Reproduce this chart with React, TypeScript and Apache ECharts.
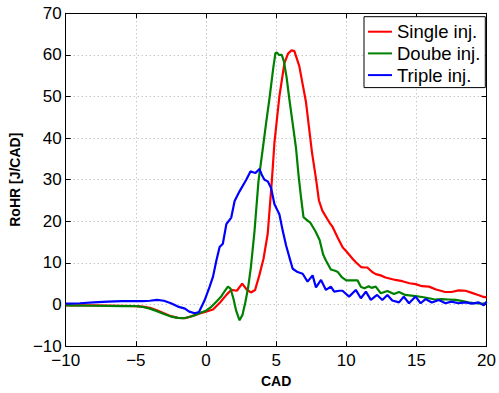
import React, { useEffect, useRef } from "react";
import * as echarts from "echarts";

// CAD positions and RoHR values
const singleX = [-10, -8, -6, -5, -4.5, -4, -3.5, -3, -2.5, -2, -1.5, -1, -0.5, 0, 0.5, 1, 1.5, 1.8, 2.2, 2.58, 2.9, 3.2, 3.5, 3.8, 4.1, 4.4, 4.7, 4.88, 5.23, 5.59, 5.85, 6.1, 6.3, 6.65, 7.13, 7.55, 7.85, 8.05, 8.3, 8.8, 9.0, 9.4, 9.75, 10.0, 10.45, 10.7, 11.05, 11.3, 11.5, 11.85, 12.1, 12.45, 12.8, 13.5, 14.0, 14.5, 14.95, 15.4, 15.9, 16.4, 17.05, 17.5, 18.0, 18.5, 18.96, 19.4, 19.7, 20];
const singleY = [-0.2, -0.2, -0.3, -0.4, -0.5, -0.8, -1.4, -2.1, -2.8, -3.2, -3.3, -2.8, -2.2, -1.7, -1.2, 0.5, 2.5, 3.5, 3.3, 5.0, 3.6, 2.9, 3.5, 7.0, 11, 17, 30, 39, 50, 58, 60.3, 61.1, 60.9, 57.3, 48.6, 36.7, 30, 25, 22.5, 19.7, 18.8, 16, 13.7, 12.8, 11, 10.1, 9, 8.9, 8.9, 7.8, 7.3, 7.0, 6.5, 5.9, 5.6, 5.1, 4.9, 4.4, 4.3, 3.6, 3.0, 3.0, 3.4, 3.3, 2.8, 2.3, 1.9, 1.7];

const doubleX = [-10, -8, -6, -5, -4.5, -4, -3.5, -3, -2.5, -2, -1.6, -1.2, -0.8, -0.4, 0, 0.4, 0.8, 1.1, 1.35, 1.56, 1.75, 1.95, 2.15, 2.39, 2.6, 2.8, 3.0, 3.2, 3.46, 3.74, 4.05, 4.3, 4.52, 4.8, 4.95, 5.05, 5.2, 5.4, 5.55, 5.75, 5.94, 6.2, 6.42, 6.6, 6.78, 6.95, 7.2, 7.45, 7.8, 8.1, 8.35, 8.55, 8.9, 9.2, 9.4, 9.7, 10.0, 10.4, 10.8, 11.05, 11.3, 11.6, 11.8, 12.1, 12.46, 12.93, 13.4, 13.76, 14.2, 14.94, 15.4, 15.9, 16.3, 16.8, 17.3, 17.8, 18.3, 18.7, 19.2, 19.7, 20];
const doubleY = [-0.2, -0.3, -0.4, -0.4, -0.6, -1.0, -1.6, -2.3, -2.9, -3.2, -3.3, -3.0, -2.6, -2.0, -1.5, -0.5, 0.9, 2.0, 3.3, 4.3, 3.8, 1.5, -1.5, -3.8, -2.5, 0.5, 4, 9, 17.7, 29.6, 37.5, 44, 49.4, 57, 60.4, 60.6, 60.0, 60.0, 58.5, 54.5, 49.4, 43, 37.5, 31, 25.6, 21, 20.3, 19.6, 17.6, 15.5, 12, 10.6, 8.4, 8.1, 7.8, 6.5, 5.8, 5.8, 5.8, 4.2, 3.9, 4.4, 4.0, 4.3, 2.7, 3.25, 2.5, 3.0, 2.3, 2.0, 1.8, 1.5, 1.2, 1.3, 1.2, 1.1, 0.8, 0.5, 0.3, 0.2, 0.3];

const tripleX = [-10, -9, -8, -7, -6, -5, -4.5, -4, -3.5, -3, -2.5, -2, -1.5, -1.2, -0.8, -0.5, -0.1, 0.26, 0.5, 0.74, 0.97, 1.2, 1.45, 1.8, 2.04, 2.39, 2.87, 3.17, 3.35, 3.53, 3.81, 4.0, 4.17, 4.4, 4.64, 4.88, 5.23, 5.47, 5.71, 5.94, 6.18, 6.53, 6.89, 7.24, 7.6, 7.84, 8.2, 8.55, 8.9, 9.14, 9.5, 9.73, 10.2, 10.68, 11.04, 11.4, 11.75, 12.2, 12.57, 12.93, 13.28, 13.76, 14.1, 14.47, 14.94, 15.3, 15.65, 16.1, 16.6, 17.07, 17.5, 18.0, 18.5, 18.96, 19.44, 19.8, 20];
const tripleY = [0.2, 0.3, 0.5, 0.7, 0.8, 0.8, 0.8, 0.9, 1.1, 0.9, 0.3, -0.5, -1.0, -1.7, -2.1, -1.8, 1.0, 4.3, 6.7, 10.6, 13.8, 14.6, 19.3, 20.9, 24.9, 27.2, 30, 32, 31.8, 31.6, 32.6, 31, 30, 29.6, 28, 24.1, 21.7, 17.7, 14.2, 11.4, 8.6, 7.8, 7.4, 5.5, 7.0, 4.1, 5.9, 3.5, 4.3, 3.1, 3.3, 3.3, 1.9, 3.5, 1.5, 3.1, 1.1, 2.3, 1.1, 2.3, 0.95, 0.5, 1.9, 0.3, 1.9, 0.3, 1.3, 0.5, 1.1, 0.3, 0.7, 0.3, 0.5, 0.2, 0.5, -0.2, 0.7];

const seriesNames = ["Single inj.", "Doube inj.", "Triple inj."];
const seriesColors = ["#ff0000", "#008000", "#0000ff"];

const xMin = -10, xMax = 20, xStep = 5;
const yMin = -10, yMax = 70, yStep = 10;

const FONT = "'Liberation Sans', Arial, Helvetica, sans-serif";
const LEGEND_ICON = "path://M0,0 L24,0 L24,2 L0,2 Z";

const fmt = (v: number) => (v < 0 ? "\u2212" + Math.abs(v) : String(v));

export default function App() {
  const ref = useRef<HTMLDivElement>(null);
  useEffect(() => {
    if (!ref.current) return;
    const chart = echarts.init(ref.current, undefined, { renderer: "svg" });
    const zip = (xs: number[], ys: number[]) => xs.map((x, i) => [x, ys[i]]);
    const datasets = [zip(singleX, singleY), zip(doubleX, doubleY), zip(tripleX, tripleY)];
    const grid = { left: 65.5, right: 10.7, top: 13.3, bottom: 43 };
    const frameLine = { show: true, onZero: false, lineStyle: { color: "#000", width: 1 } };
    const inTick = { show: true, inside: true, length: 5, lineStyle: { color: "#000", width: 1 } };
    chart.setOption({
      animation: false,
      backgroundColor: "#fff",
      grid,
      legend: {
        orient: "vertical",
        left: 364,
        top: 16.7,
        itemWidth: 24,
        itemHeight: 14,
        itemGap: 2.7,
        padding: [5.5, 5, 3, 4],
        borderColor: "#000",
        borderWidth: 1,
        borderRadius: 0,
        backgroundColor: "#fff",
        symbolKeepAspect: true,
        data: seriesNames.map((n) => ({ name: n, icon: LEGEND_ICON })),
        textStyle: { fontFamily: FONT, fontSize: 18.5, lineHeight: 19, color: "#000" },
      },
      xAxis: [
        {
          type: "value",
          min: xMin,
          max: xMax,
          interval: xStep,
          name: "CAD",
          nameLocation: "middle",
          nameGap: 24,
          nameTextStyle: { fontFamily: FONT, fontSize: 14, fontWeight: "bold", color: "#000" },
          axisLine: frameLine,
          axisTick: inTick,
          axisLabel: { fontFamily: FONT, fontSize: 17, color: "#000", margin: 6, formatter: fmt },
          splitLine: { show: true, lineStyle: { color: "#b0b0b0", type: [1, 3], width: 1 } },
        },
        {
          type: "value",
          position: "top",
          min: xMin,
          max: xMax,
          interval: xStep,
          axisLine: frameLine,
          axisTick: inTick,
          axisLabel: { show: false },
          splitLine: { show: false },
        },
      ],
      yAxis: [
        {
          type: "value",
          min: yMin,
          max: yMax,
          interval: yStep,
          name: "RoHR [J/CAD]",
          nameLocation: "middle",
          nameGap: 40,
          nameRotate: 90,
          nameTextStyle: { fontFamily: FONT, fontSize: 14, fontWeight: "bold", color: "#000" },
          axisLine: frameLine,
          axisTick: inTick,
          axisLabel: { fontFamily: FONT, fontSize: 17, color: "#000", margin: 4, formatter: fmt },
          splitLine: { show: true, lineStyle: { color: "#b0b0b0", type: [1, 3], width: 1 } },
        },
        {
          type: "value",
          position: "right",
          min: yMin,
          max: yMax,
          interval: yStep,
          axisLine: frameLine,
          axisTick: inTick,
          axisLabel: { show: false },
          splitLine: { show: false },
        },
      ],
      series: seriesNames.map((name, i) => ({
        name,
        type: "line",
        xAxisIndex: 0,
        yAxisIndex: 0,
        data: datasets[i],
        showSymbol: false,
        symbol: "none",
        lineStyle: { color: seriesColors[i], width: 2.2 },
        itemStyle: { color: seriesColors[i] },
        z: 3 + i,
      })),
    });
    return () => chart.dispose();
  }, []);
  return <div ref={ref} style={{ width: 499, height: 393, position: "absolute", left: 0, top: 0 }} />;
}
